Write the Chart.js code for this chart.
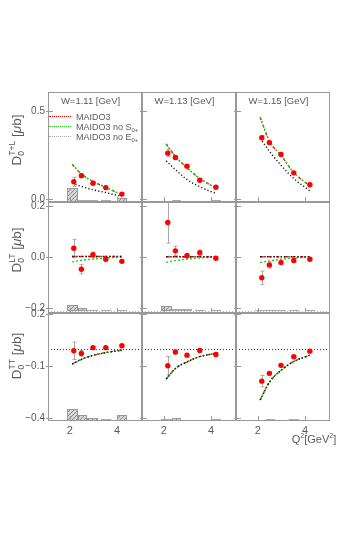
<!DOCTYPE html>
<html>
<head>
<meta charset="utf-8">
<script src="https://cdn.jsdelivr.net/npm/chart.js@4.4.1/dist/chart.umd.min.js"></script>
<style>
  html, body { margin: 0; padding: 0; background: #fff; }
  #page { position: relative; width: 360px; height: 550px; overflow: hidden;
          font-family: "Liberation Sans", Arial, sans-serif; color: #5a5a5a; }
  #page canvas { position: absolute; left: 0; top: 0; }
  .lbl { position: absolute; white-space: nowrap; line-height: 1; }
  .wt { font-size: 9.5px; transform: translate(-50%, -50%); }
  .yt { font-size: 13.5px; transform: translate(-50%, -50%) rotate(-90deg); }
  .st { display: inline-block; font-size: 8.5px; line-height: 9px; vertical-align: -3px; }
  .st span { display: block; }
  .leg { font-size: 9px; transform: translateY(-50%); }
  .leg sub { font-size: 6px; line-height: 0; vertical-align: -2px; }
  .smp { position: absolute; width: 22px; height: 0; }
  .xt { font-size: 11px; transform: translate(-50%, -50%); }
  .xt sup { font-size: 7px; line-height: 0; }
</style>
</head>
<body>
<div id="page">
  <div class="lbl yt" style="left:17px;top:140px">D<span class="st"><span>T+L</span><span>0</span></span> [<i>μ</i>b]</div>
  <div class="lbl yt" style="left:17px;top:250px">D<span class="st"><span>LT</span><span>0</span></span> [<i>μ</i>b]</div>
  <div class="lbl yt" style="left:17px;top:356px">D<span class="st"><span>TT</span><span>0</span></span> [<i>μ</i>b]</div>
  <div class="lbl xt" style="left:314px;top:439px">Q<sup>2</sup>[GeV<sup>2</sup>]</div>

  <div class="smp" style="left:49px;top:116px;border-top:1.5px dotted #e00"></div>
  <div class="smp" style="left:49px;top:126px;border-top:1.5px dotted #2c2"></div>
  <div class="smp" style="left:49px;top:136px;border-top:1.5px dotted #aaa"></div>
  <div class="lbl leg" style="left:76px;top:117px">MAIDO3</div>
  <div class="lbl leg" style="left:76px;top:127px">MAIDO3 no S<sub>0+</sub></div>
  <div class="lbl leg" style="left:76px;top:137px">MAIDO3 no E<sub>0+</sub></div>
</div>
<script>
// Q^2 of the measured points and of the model curves [GeV^2]
const qPts = [2.17, 2.49, 2.98, 3.52, 4.2];
const qCurve = [2.1, 2.5, 3.0, 3.5, 4.2];
// systematic error boxes, Q^2 bin edges
const sysLo = [1.87, 2.33, 2.74, 3.32, 3.98];
const sysHi = [2.33, 2.74, 3.18, 3.74, 4.40];
const wLabels = ['W=1.11 [GeV]', 'W=1.13 [GeV]', 'W=1.15 [GeV]'];
const xTicks = [2, 4];

// D0^{T+L}, one list per W
const tlVal = [[0.097, 0.132, 0.089, 0.064, 0.027], [0.26, 0.235, 0.186, 0.106, 0.066], [0.348, 0.32, 0.252, 0.148, 0.08]];
const tlErr = [[0.026, 0.01, 0.008, 0.008, 0.008], [0.02, 0.012, 0.008, 0.008, 0.008], [0.012, 0.01, 0.008, 0.008, 0.008]];
const tlSys = [[0.078, 0.011, 0.011, 0.011, 0.023], [0.006, 0.01, 0.006, 0.008, 0.014], [0.006, 0.008, 0.006, 0.006, 0.006]];
const tlMaid = [[0.197, 0.14, 0.098, 0.066, 0.023], [0.312, 0.24, 0.174, 0.118, 0.061], [0.464, 0.326, 0.246, 0.152, 0.074]];
const tlNoS = [[0.197, 0.14, 0.098, 0.066, 0.023], [0.312, 0.24, 0.174, 0.118, 0.061], [0.464, 0.326, 0.246, 0.152, 0.074]];
const tlNoE = [[0.089, 0.07, 0.051, 0.036, 0.013], [0.216, 0.165, 0.108, 0.07, 0.03], [0.345, 0.269, 0.188, 0.118, 0.045]];

// D0^{LT}
const ltVal = [[0.035, -0.047, 0.01, -0.008, -0.016], [0.136, 0.025, 0.006, 0.018, -0.004], [-0.08, -0.03, -0.021, -0.013, -0.008]];
const ltErr = [[0.035, 0.018, 0.01, 0.006, 0.006], [0.081, 0.018, 0.008, 0.01, 0.006], [0.026, 0.012, 0.008, 0.008, 0.006]];
const ltSys = [[0.023, 0.01, 0.004, 0.004, 0.004], [0.02, 0.008, 0.008, 0.004, 0.004], [0.004, 0.004, 0.004, 0.004, 0.004]];
const ltMaid = [[0.003, 0.003, 0.003, 0.003, 0.003], [0.002, 0.002, 0.002, 0.002, 0.002], [0.002, 0.002, 0.002, 0.002, 0.002]];
const ltNoS = [[-0.018, -0.012, -0.007, -0.003, 0.0], [-0.02, -0.013, -0.007, -0.003, 0.0], [-0.021, -0.014, -0.008, -0.003, 0.0]];
const ltNoE = [[0.003, 0.003, 0.003, 0.003, 0.003], [0.002, 0.002, 0.002, 0.002, 0.002], [0.002, 0.002, 0.002, 0.002, 0.002]];

// D0^{TT}
const ttVal = [[-0.01, -0.025, 0.008, 0.008, 0.019], [-0.096, -0.017, -0.035, -0.008, -0.031], [-0.185, -0.14, -0.094, -0.044, -0.012]];
const ttErr = [[0.05, 0.016, 0.008, 0.006, 0.006], [0.053, 0.012, 0.01, 0.008, 0.01], [0.033, 0.01, 0.008, 0.006, 0.006]];
const ttSys = [[0.071, 0.033, 0.019, 0.012, 0.033], [0.012, 0.018, 0.006, 0.006, 0.012], [0.006, 0.012, 0.006, 0.012, 0.006]];
const ttMaid = [[-0.087, -0.059, -0.036, -0.021, -0.006], [-0.173, -0.111, -0.073, -0.044, -0.025], [-0.294, -0.189, -0.121, -0.073, -0.035]];
const ttNoS = [[-0.087, -0.059, -0.036, -0.021, -0.006], [-0.173, -0.111, -0.073, -0.044, -0.025], [-0.294, -0.189, -0.121, -0.073, -0.035]];
const ttNoE = [[-0.087, -0.059, -0.036, -0.021, -0.006], [-0.173, -0.111, -0.073, -0.044, -0.025], [-0.294, -0.189, -0.121, -0.073, -0.035]];

const yTicks = [[0, 0.5], [-0.2, 0, 0.2], [-0.4, -0.1, 0.2]];
const yMin = [-0.018, -0.218, -0.415];
const yMax = [0.608, 0.216, 0.208];
const sysBase = [-0.018, -0.209, -0.415];
const refLine = [null, -0.209, 0];

const rows = [
  { val: tlVal, err: tlErr, sys: tlSys, maid: tlMaid, noS: tlNoS, noE: tlNoE },
  { val: ltVal, err: ltErr, sys: ltSys, maid: ltMaid, noS: ltNoS, noE: ltNoE },
  { val: ttVal, err: ttErr, sys: ttSys, maid: ttMaid, noS: ttNoS, noE: ttNoE }
];

// panel frames on the page
const colL = [48, 142, 236], colR = [142, 236, 330];
const rowT = [92, 202, 313], rowB = [202, 313, 421];
const FONT = '"Liberation Sans", Arial, sans-serif';
const page = document.getElementById('page');

// hatch used for the systematic boxes
const hatch = document.createElement('canvas');
hatch.width = 4; hatch.height = 4;
const hx = hatch.getContext('2d');
hx.fillStyle = '#d6d6d6'; hx.fillRect(0, 0, 4, 4);
hx.strokeStyle = '#8c8c8c'; hx.lineWidth = 1;
hx.beginPath(); hx.moveTo(0, 4); hx.lineTo(4, 0); hx.stroke();

const decor = {
  id: 'decor',
  beforeDatasetsDraw(chart, args, o) {
    const { ctx, chartArea: a } = chart;
    const x = chart.scales.x, y = chart.scales.y;
    ctx.save();
    ctx.beginPath();
    ctx.rect(a.left, a.top, a.right - a.left, a.bottom - a.top);
    ctx.clip();

    if (o.ref !== null) {
      const yy = Math.round(y.getPixelForValue(o.ref)) + 0.5;
      ctx.strokeStyle = o.ref === 0 ? '#444' : '#bbb';
      ctx.lineWidth = 1;
      ctx.setLineDash([1, 2]);
      ctx.beginPath(); ctx.moveTo(a.left, yy); ctx.lineTo(a.right, yy); ctx.stroke();
      ctx.setLineDash([]);
    }

    const pat = ctx.createPattern(hatch, 'repeat');
    o.sys.forEach((h, i) => {
      const x0 = Math.round(x.getPixelForValue(sysLo[i]));
      const x1 = Math.round(x.getPixelForValue(sysHi[i]));
      const y0 = Math.round(y.getPixelForValue(o.base));
      const y1 = Math.round(y.getPixelForValue(o.base + h));
      const hh = Math.max(1, y0 - y1);
      if (hh < 3) {
        ctx.fillStyle = '#aaa';
        ctx.fillRect(x0, y0 - hh, x1 - x0, hh);
      } else {
        ctx.fillStyle = pat;
        ctx.fillRect(x0, y1, x1 - x0, hh);
        ctx.strokeStyle = '#999'; ctx.lineWidth = 1;
        ctx.strokeRect(x0 + 0.5, y1 + 0.5, x1 - x0 - 1, hh - 1);
      }
    });

    ctx.strokeStyle = '#aaa';
    ctx.lineWidth = 1;
    o.err.forEach((e, i) => {
      const px = Math.round(x.getPixelForValue(qPts[i])) + 0.5;
      const t = y.getPixelForValue(o.val[i] + e), b = y.getPixelForValue(o.val[i] - e);
      ctx.beginPath();
      ctx.moveTo(px, t); ctx.lineTo(px, b);
      ctx.moveTo(px - 2, t); ctx.lineTo(px + 2, t);
      ctx.moveTo(px - 2, b); ctx.lineTo(px + 2, b);
      ctx.stroke();
    });
    ctx.restore();
  },
  afterDraw(chart, args, o) {
    const { ctx, chartArea: a } = chart;
    const x = chart.scales.x, y = chart.scales.y;
    ctx.save();
    ctx.strokeStyle = '#999';
    ctx.lineWidth = 1;
    ctx.strokeRect(a.left + 0.5, a.top + 0.5, a.right - a.left - 1, a.bottom - a.top - 1);
    ctx.beginPath();
    o.yt.forEach(v => {
      const py = Math.round(y.getPixelForValue(v)) + 0.5;
      ctx.moveTo(a.left - 2, py); ctx.lineTo(a.left + 5, py);
    });
    xTicks.forEach(v => {
      const px = Math.round(x.getPixelForValue(v)) + 0.5;
      ctx.moveTo(px, a.bottom); ctx.lineTo(px, a.bottom - 5);
    });
    ctx.stroke();
    ctx.restore();
  }
};

const fmt = v => (v < 0 ? '\u2212' : '') + Math.abs(v).toFixed(1);
const pts = (xs, ys) => xs.map((q, i) => ({ x: q, y: ys[i] }));
const curve = (data, color, dash) => ({
  data, showLine: true, borderColor: color, borderWidth: 1.4, borderDash: dash,
  pointRadius: 0, fill: false, cubicInterpolationMode: 'monotone'
});

rows.forEach((row, r) => {
  [0, 1, 2].forEach(c => {
    const cv = document.createElement('canvas');
    cv.width = 360; cv.height = 550;
    cv.style.width = '360px'; cv.style.height = '550px';
    page.insertBefore(cv, page.firstChild);
    const yW = c === 0 ? 30 : 0;
    const xH = r === 2 ? 18 : 0;

    new Chart(cv, {
      type: 'scatter',
      data: {
        datasets: [
          { data: pts(qPts, row.val[c]), backgroundColor: '#ff0000', borderWidth: 0, pointRadius: 2.7 },
          curve(pts(qCurve, row.noE[c]), '#111', [1.2, 2.2]),
          curve(pts(qCurve, row.noS[c]), '#22cc22', [2, 2]),
          curve(pts(qCurve, row.maid[c]), '#ee0000', [3, 2, 1, 2])
        ]
      },
      options: {
        responsive: false,
        animation: false,
        events: [],
        layout: {
          padding: { left: colL[c] - yW, right: 360 - colR[c], top: rowT[r], bottom: 550 - rowB[r] - xH }
        },
        plugins: {
          legend: { display: false },
          tooltip: { enabled: false },
          decor: { val: row.val[c], err: row.err[c], sys: row.sys[c], base: sysBase[r], ref: refLine[r], yt: yTicks[r] }
        },
        scales: {
          x: {
            type: 'linear', min: 1.08, max: 5.05, display: r === 2,
            grid: { display: false, drawTicks: false }, border: { display: false },
            ticks: { color: '#5a5a5a', font: { size: 11, family: FONT }, padding: 3, callback: v => String(v) },
            afterBuildTicks: s => { s.ticks = xTicks.map(v => ({ value: v })); },
            afterFit: s => { s.height = xH; }
          },
          y: {
            type: 'linear', min: yMin[r], max: yMax[r], display: c === 0,
            grid: { display: false, drawTicks: false }, border: { display: false },
            ticks: { color: '#5a5a5a', font: { size: 10, family: FONT }, padding: 3, callback: fmt },
            afterBuildTicks: s => { s.ticks = yTicks[r].map(v => ({ value: v })); },
            afterFit: s => { s.width = yW; }
          }
        }
      },
      plugins: [decor]
    });

    if (r === 0) {
      const t = document.createElement('div');
      t.className = 'lbl wt';
      t.style.left = ((colL[c] + colR[c]) / 2 - 4.5) + 'px';
      t.style.top = '101px';
      t.textContent = wLabels[c];
      page.appendChild(t);
    }
  });
});
</script>
</body>
</html>
